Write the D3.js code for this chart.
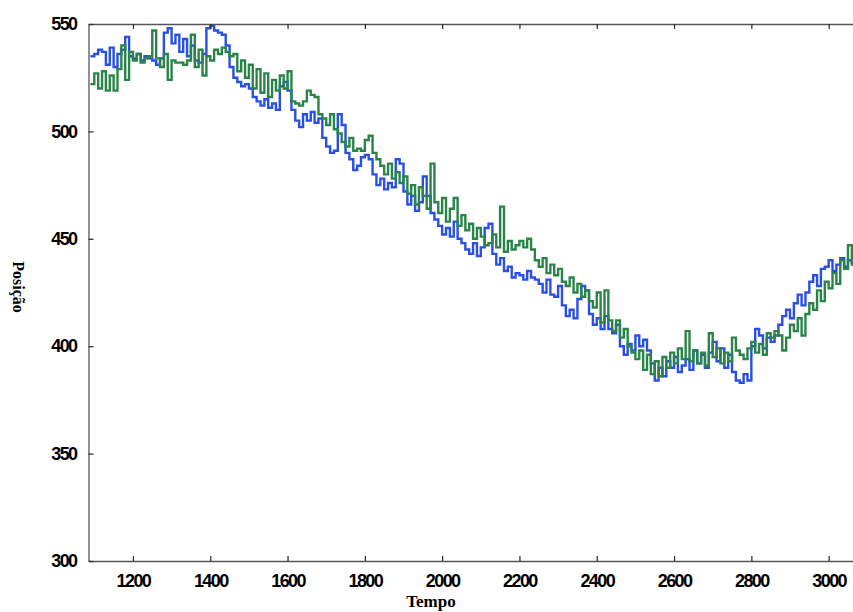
<!DOCTYPE html>
<html><head><meta charset="utf-8">
<script src="https://cdn.jsdelivr.net/npm/d3@7"></script>
<style>body{margin:0;background:#fff}svg{display:block}</style>
</head><body><div id="chart"></div>
<script>
// Time samples: 1090 .. 3070 every 10
const tStart = 1090, tStep = 10;
const blueValues = [
 535,536,538,537,531,539,530,536,538,544,
 535,534,536,533,535,534,533,531,534,546,
 548,541,545,537,543,535,540,533,532,536,
 548,549,547,546,545,540,530,525,523,521,
 522,520,516,514,512,515,511,513,510,521,
 523,519,510,505,502,508,505,509,504,506,
 497,493,490,491,508,503,490,487,482,484,
 488,489,487,480,475,478,473,476,474,487,
 485,472,466,470,463,467,479,470,462,459,
 456,452,455,451,458,450,448,445,443,448,
 442,446,455,457,443,438,441,435,437,432,
 434,433,431,435,432,431,429,425,431,424,
 423,428,419,414,417,413,422,428,426,415,
 410,413,408,414,408,406,410,400,396,401,
 398,405,400,403,398,392,384,390,386,393,
 390,395,388,391,394,389,398,392,396,390,
 397,402,393,399,390,396,388,384,383,387,
 384,400,408,405,399,404,402,405,410,414,
 417,413,420,424,419,425,430,433,428,436,
 437,440,435,438,441,437,440,439,442
];
const greenValues = [
 522,527,520,528,519,526,519,529,540,524,
 537,533,536,532,534,535,547,534,530,536,
 524,533,532,532,531,533,545,530,538,526,
 535,533,538,536,539,537,535,536,528,533,
 525,531,520,529,518,527,516,524,519,526,
 520,528,514,513,512,514,519,517,516,508,
 506,503,508,501,499,495,493,497,491,492,
 491,496,498,490,487,484,480,485,478,481,
 476,479,471,475,466,474,470,464,485,467,
 462,469,458,464,469,456,461,454,457,450,
 455,451,447,448,452,446,465,444,449,445,
 447,449,446,450,445,440,437,441,434,438,
 433,436,430,428,432,425,429,423,426,421,
 418,425,411,426,412,407,412,404,408,400,
 397,394,398,389,396,387,393,386,395,390,
 397,392,399,394,407,393,398,392,397,391,
 406,395,399,392,397,393,404,398,396,394,
 399,402,397,401,396,406,404,407,405,398,
 404,410,407,413,405,415,420,417,426,421,
 430,427,434,429,440,436,447,438,450
];
const xTicks = [1200,1400,1600,1800,2000,2200,2400,2600,2800,3000];
const yTicks = [300,350,400,450,500,550];
const xLabel = "Tempo";
const yLabel = "Posição";

const W = 853, H = 612;
const svg = d3.select("#chart").append("svg").attr("width", W).attr("height", H);

const x = d3.scaleLinear().domain([1085, 3100]).range([88.5, 867.3]);
const y = d3.scaleLinear().domain([300, 550]).range([561, 24]);

const toPts = vals => vals.map((v, i) => ({t: tStart + i * tStep, v}));
const line = d3.line().x(d => x(d.t)).y(d => y(d.v)).curve(d3.curveStepAfter);

const plot = svg.append("g");
plot.append("path").datum(toPts(blueValues)).attr("d", line)
  .attr("fill", "none").attr("stroke", "#2a4fe6").attr("stroke-width", 2.4);
plot.append("path").datum(toPts(greenValues)).attr("d", line)
  .attr("fill", "none").attr("stroke", "#2a8448").attr("stroke-width", 2.4);

// Axes
const axisColor = "#555";
const fontTick = "'Liberation Sans', Arial, sans-serif";
function styleAxis(g) {
  g.select(".domain").attr("stroke", axisColor).attr("stroke-width", 1.3);
  g.selectAll(".tick line").attr("stroke", "#333").attr("stroke-width", 1.3);
  g.selectAll(".tick text").attr("fill", "#000").attr("font-family", fontTick)
    .attr("font-size", 18).attr("font-weight", "bold").attr("letter-spacing", -1.6);
}
const xb = svg.append("g").attr("transform", `translate(0,${y(300)})`)
  .call(d3.axisBottom(x).tickValues(xTicks).tickSize(-5).tickPadding(13).tickFormat(d3.format("d")).tickSizeOuter(0));
styleAxis(xb);
const xt = svg.append("g").attr("transform", `translate(0,${y(550)})`)
  .call(d3.axisTop(x).tickValues(xTicks).tickSize(-5).tickFormat("").tickSizeOuter(0));
styleAxis(xt);
const yl = svg.append("g").attr("transform", `translate(${x(1085)},0)`)
  .call(d3.axisLeft(y).tickValues(yTicks).tickSize(-5).tickPadding(12).tickFormat(d3.format("d")).tickSizeOuter(0));
styleAxis(yl);

svg.append("text").attr("x", 431).attr("y", 607).attr("text-anchor", "middle")
  .attr("font-family", "'Liberation Serif', 'Times New Roman', serif").attr("font-weight", "bold")
  .attr("font-size", 17).text(xLabel);
svg.append("text").attr("transform", "translate(13,287) rotate(90)").attr("text-anchor", "middle")
  .attr("font-family", "'Liberation Serif', 'Times New Roman', serif").attr("font-weight", "bold")
  .attr("font-size", 16).text(yLabel);
</script></body></html>
